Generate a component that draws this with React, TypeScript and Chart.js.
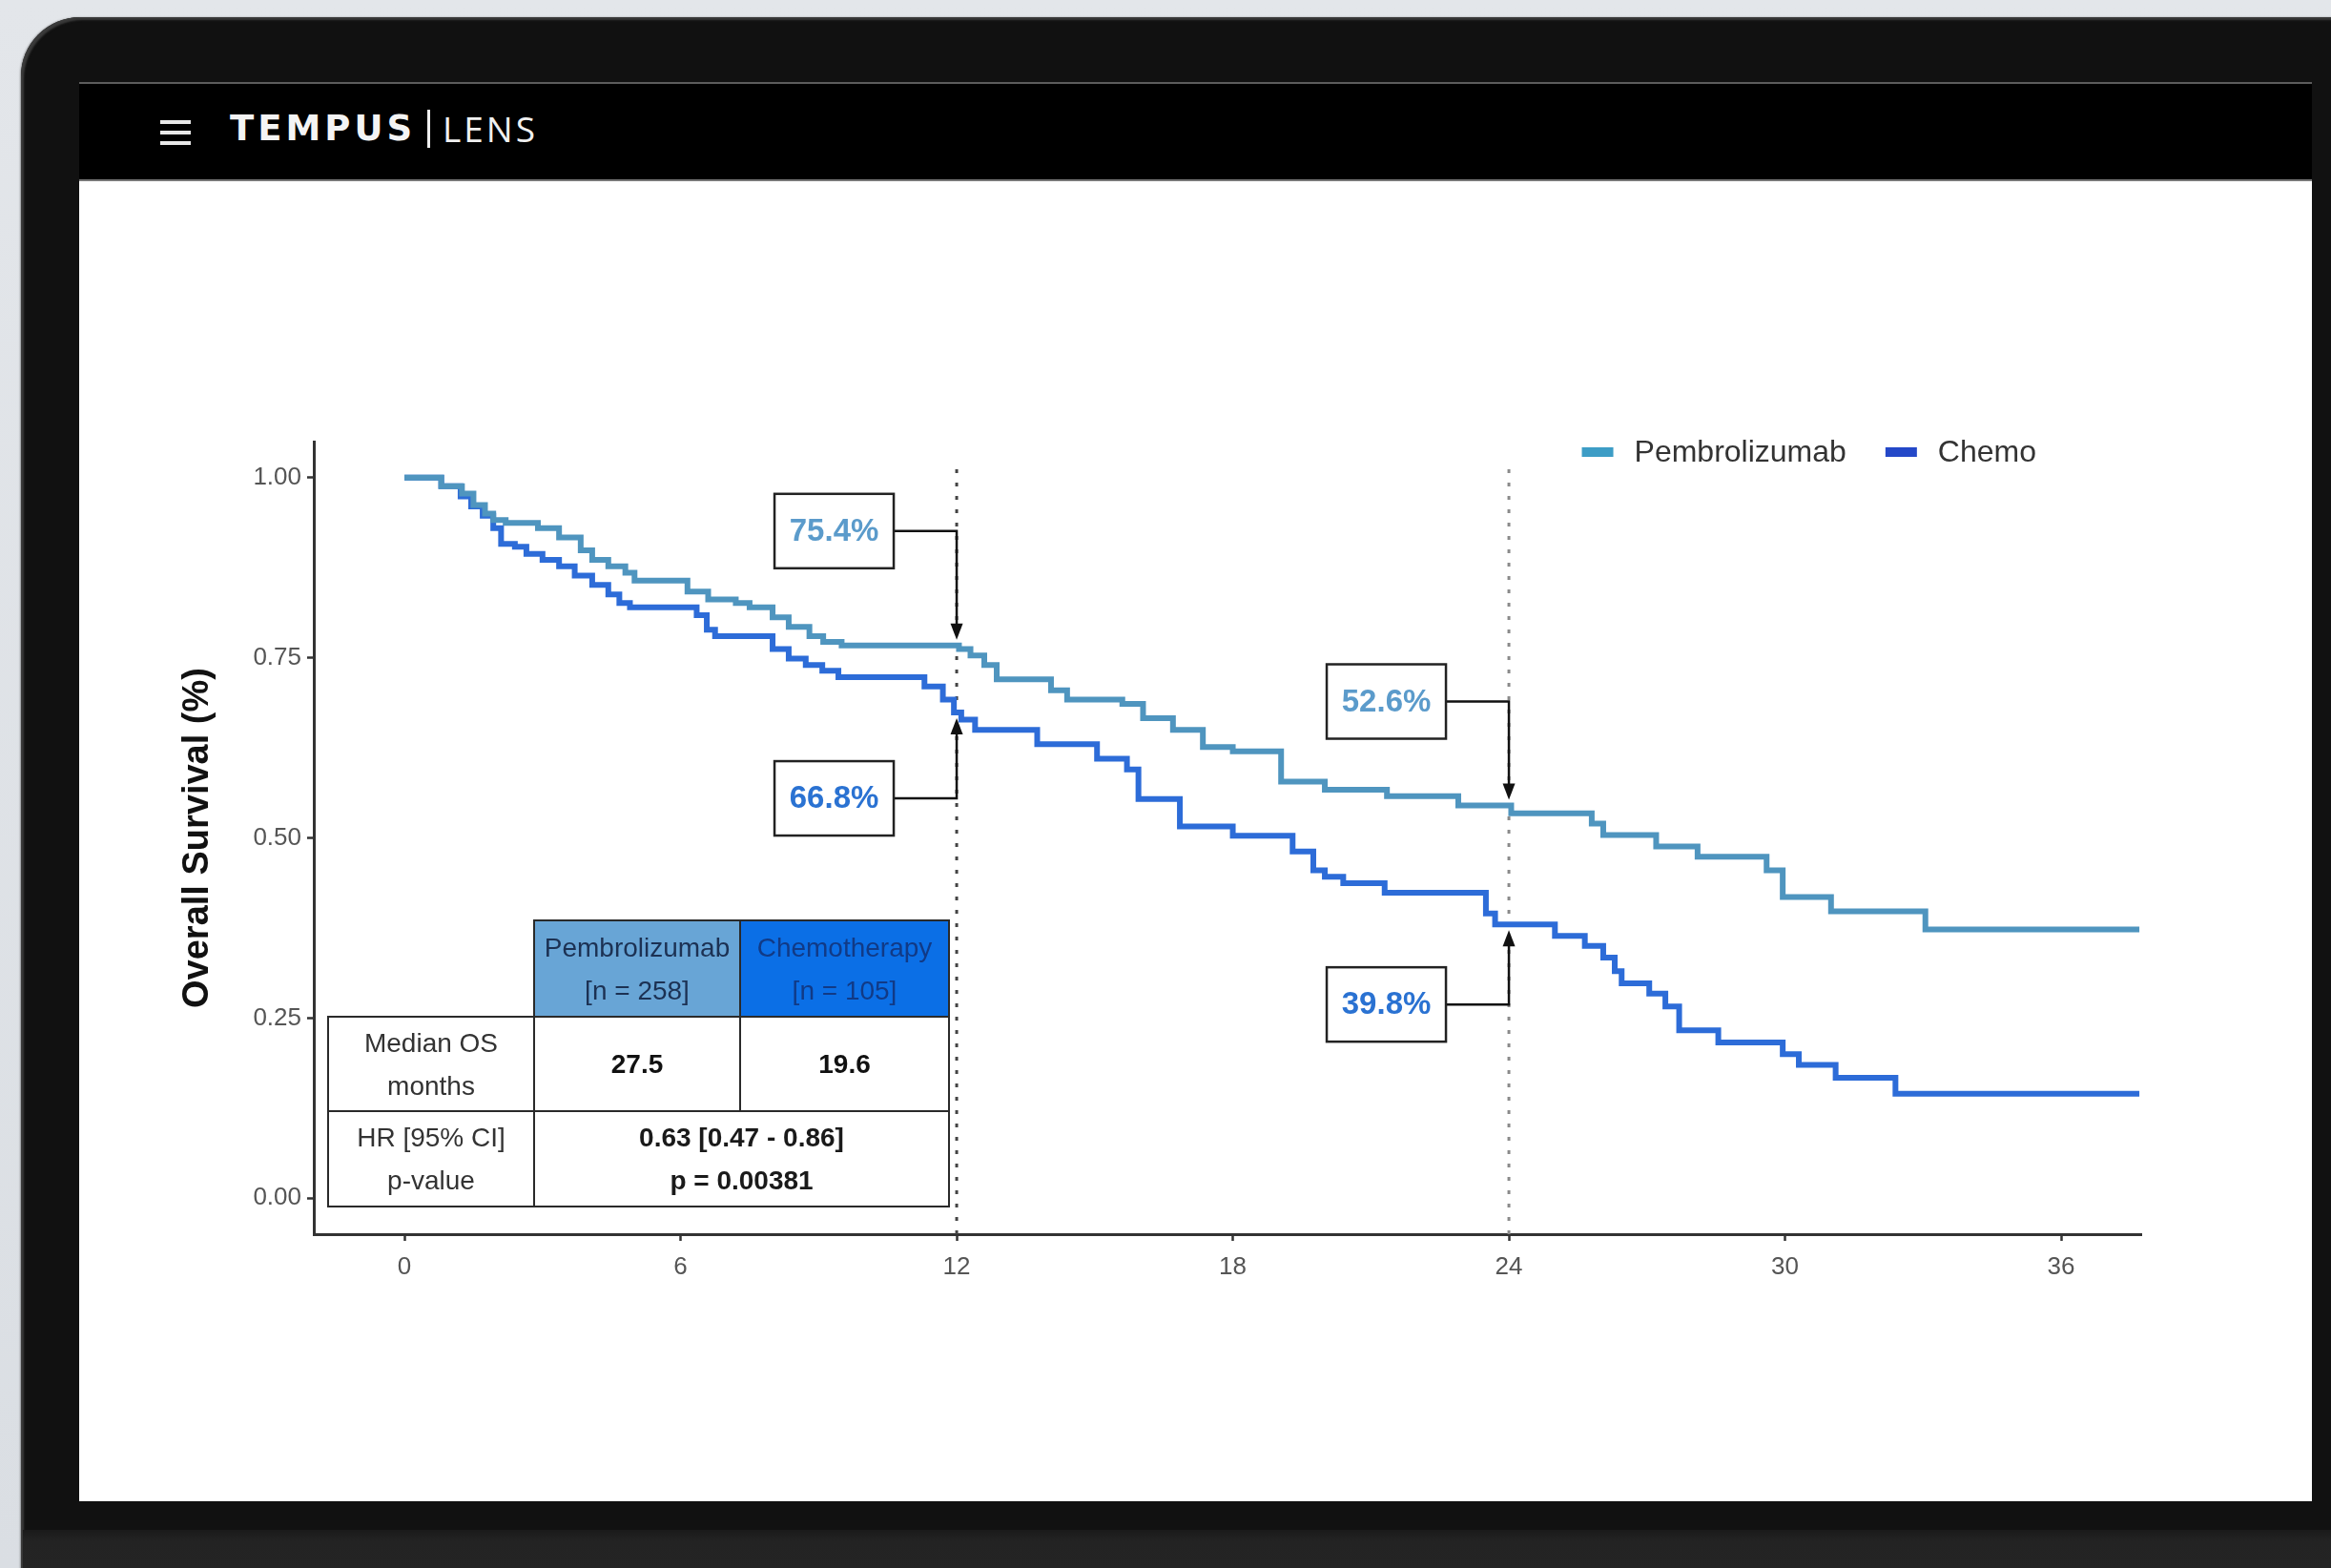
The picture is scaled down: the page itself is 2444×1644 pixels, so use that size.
import React, { useEffect, useRef } from 'react';
import { Chart, registerables } from 'chart.js';

Chart.register(...registerables);

// ---------------- DATA ----------------
const seriesNames = ['Pembrolizumab', 'Chemo'];

const pembroMonths = [0, 0.8, 1.25, 1.5, 1.75, 1.93, 2.2, 2.9, 3.36, 3.83, 4.08, 4.43, 4.8, 5.0, 6.15, 6.6, 7.2, 7.5, 8.0, 8.35, 8.8, 9.1, 9.5, 12.05, 12.3, 12.6, 12.87, 14.05, 14.4, 15.6, 16.05, 16.7, 17.35, 18.0, 19.05, 20.0, 21.35, 22.9, 24.05, 25.8, 26.05, 27.2, 28.1, 29.6, 29.95, 31.0, 33.05, 37.7];
const pembroSurv = [1.0, 0.988, 0.978, 0.962, 0.95, 0.941, 0.937, 0.93, 0.917, 0.899, 0.886, 0.877, 0.868, 0.857, 0.842, 0.831, 0.826, 0.82, 0.806, 0.793, 0.78, 0.772, 0.767, 0.762, 0.753, 0.74, 0.72, 0.705, 0.692, 0.686, 0.666, 0.65, 0.626, 0.62, 0.578, 0.567, 0.558, 0.545, 0.534, 0.52, 0.504, 0.488, 0.474, 0.455, 0.418, 0.398, 0.373, 0.373];

const chemoMonths = [0, 0.8, 1.22, 1.45, 1.7, 1.93, 2.1, 2.4, 2.65, 3.0, 3.36, 3.7, 4.08, 4.43, 4.67, 4.9, 6.35, 6.57, 6.75, 8.0, 8.35, 8.72, 9.08, 9.43, 11.3, 11.7, 11.94, 12.1, 12.4, 13.75, 15.05, 15.7, 15.95, 16.85, 18.0, 19.3, 19.75, 20.0, 20.4, 21.3, 23.5, 23.7, 25.0, 25.65, 26.05, 26.3, 26.45, 27.05, 27.4, 27.7, 28.55, 29.95, 30.3, 31.1, 32.4, 37.7];
const chemoSurv = [1.0, 0.988, 0.974, 0.96, 0.947, 0.93, 0.908, 0.904, 0.894, 0.886, 0.877, 0.864, 0.851, 0.838, 0.826, 0.82, 0.809, 0.789, 0.78, 0.762, 0.749, 0.74, 0.732, 0.723, 0.71, 0.692, 0.674, 0.664, 0.65, 0.63, 0.61, 0.595, 0.554, 0.516, 0.503, 0.481, 0.455, 0.446, 0.437, 0.424, 0.395, 0.38, 0.364, 0.35, 0.334, 0.315, 0.298, 0.284, 0.266, 0.233, 0.216, 0.2, 0.185, 0.167, 0.145, 0.145];

const xTickValues = [0, 6, 12, 18, 24, 30, 36];
const yTickValues = [0, 0.25, 0.5, 0.75, 1.0];
const xRange = [-1.97, 37.74];
const yRange = [-0.05, 1.05];

const landmarkMonths = [12, 24];
const landmarkSpan = [-0.05, 1.016];

const annotMonths = [12, 12, 24, 24];
const annotTexts = ['75.4%', '66.8%', '52.6%', '39.8%'];
const annotSeries = [0, 1, 0, 1];

const tableGroups = ['Pembrolizumab', 'Chemotherapy'];
const tableN = [258, 105];
const tableMedianOS = ['27.5', '19.6'];
const tableHR = '0.63 [0.47 - 0.86]';
const tablePValue = '0.00381';

// ---------------- STYLE ----------------
const FONT = "'Liberation Sans', Arial, Helvetica, sans-serif";
const LINE_COLORS = ['#4f95bf', '#2d6cd8'];
const LEGEND_COLORS = ['#3d9dc6', '#2448c8'];
const LABEL_COLORS = ['#5b9bcb', '#2a72d2'];
const LANDMARK_COLORS = ['#444444', '#8a8a8a'];
// box centre offset from the curve (px), per annotation
const ANNOT_BOX_DY = [-120, 90, -109, 84];

function survAt(months: number[], surv: number[], t: number) {
  let v = surv[0];
  for (let i = 0; i < months.length; i++) if (months[i] <= t) v = surv[i];
  return v;
}

const SERIES = [
  { m: pembroMonths, s: pembroSurv },
  { m: chemoMonths, s: chemoSurv },
];

const overlayPlugin = {
  id: 'kmOverlay',
  afterDatasetsDraw(chart: any) {
    const { ctx, chartArea } = chart;
    const xs = chart.scales.x;
    const ys = chart.scales.y;
    ctx.save();

    // ---- legend ----
    ctx.font = `32px ${FONT}`;
    ctx.textBaseline = 'middle';
    ctx.textAlign = 'left';
    const ly = chartArea.top + 11;
    const sw = 33, gapSw = 22, gapItems = 41;
    const widths = seriesNames.map((n) => ctx.measureText(n).width);
    const total = widths.reduce((a, w) => a + sw + gapSw + w, 0) + gapItems * (seriesNames.length - 1);
    let lx = chartArea.right - 110 - total;
    seriesNames.forEach((n, i) => {
      ctx.fillStyle = LEGEND_COLORS[i];
      ctx.fillRect(lx, ly - 5, sw, 10);
      ctx.fillStyle = '#333';
      ctx.fillText(n, lx + sw + gapSw, ly + 1);
      lx += sw + gapSw + widths[i] + gapItems;
    });

    // ---- annotations ----
    const boxW = 125, boxH = 78, boxGap = 66;
    annotMonths.forEach((m, i) => {
      const ser = SERIES[annotSeries[i]];
      const v = survAt(ser.m, ser.s, m);
      const xm = xs.getPixelForValue(m);
      const yc = ys.getPixelForValue(v);
      const dy = ANNOT_BOX_DY[i];
      const cy = yc + dy;
      const right = xm - boxGap;
      const left = right - boxW;
      const down = dy < 0;
      const tip = down ? yc - 6 : yc + 6;
      const headLen = 17, headHalf = 6.5;
      ctx.strokeStyle = '#111';
      ctx.lineWidth = 2.5;
      ctx.beginPath();
      ctx.moveTo(right, cy);
      ctx.lineTo(xm, cy);
      ctx.lineTo(xm, down ? tip - headLen + 2 : tip + headLen - 2);
      ctx.stroke();
      ctx.fillStyle = '#111';
      ctx.beginPath();
      ctx.moveTo(xm, tip);
      ctx.lineTo(xm - headHalf, down ? tip - headLen : tip + headLen);
      ctx.lineTo(xm + headHalf, down ? tip - headLen : tip + headLen);
      ctx.closePath();
      ctx.fill();
      ctx.fillStyle = '#fff';
      ctx.fillRect(left, cy - boxH / 2, boxW, boxH);
      ctx.lineWidth = 2.5;
      ctx.strokeStyle = '#222';
      ctx.strokeRect(left, cy - boxH / 2, boxW, boxH);
      ctx.fillStyle = LABEL_COLORS[annotSeries[i]];
      ctx.font = `bold 33px ${FONT}`;
      ctx.textAlign = 'center';
      ctx.textBaseline = 'middle';
      ctx.fillText(annotTexts[i], left + boxW / 2, cy + 1);
    });
    ctx.restore();
  },
};

function KMChart() {
  const ref = useRef<HTMLCanvasElement>(null);
  useEffect(() => {
    const tickFont = { family: FONT, size: 26 };
    const gridCfg = {
      display: true,
      drawOnChartArea: false,
      drawTicks: true,
      tickLength: 7,
      tickWidth: 2.5,
      tickColor: '#333',
    };
    const borderCfg = { display: true, color: '#333', width: 3 };
    const datasets: any[] = SERIES.map((ser, i) => ({
      label: seriesNames[i],
      data: ser.m.map((t, k) => ({ x: t, y: ser.s[k] })),
      borderColor: LINE_COLORS[i],
      backgroundColor: LINE_COLORS[i],
      borderWidth: 6,
      stepped: 'before',
      pointRadius: 0,
      fill: false,
      tension: 0,
    }));
    landmarkMonths.forEach((m, i) => {
      datasets.push({
        label: 'landmark' + m,
        data: landmarkSpan.map((v) => ({ x: m, y: v })),
        borderColor: LANDMARK_COLORS[i],
        borderWidth: 3,
        borderDash: [4, 10],
        borderCapStyle: 'butt',
        pointRadius: 0,
        fill: false,
      });
    });
    const chart = new Chart(ref.current as HTMLCanvasElement, {
      type: 'line',
      data: { datasets },
      options: {
        animation: false,
        responsive: false,
        devicePixelRatio: 1,
        events: [],
        layout: { autoPadding: false, padding: { left: 0, top: 43, right: 65, bottom: 0 } },
        plugins: { legend: { display: false }, tooltip: { enabled: false } },
        scales: {
          x: {
            type: 'linear',
            min: xRange[0],
            max: xRange[1],
            afterBuildTicks: (s: any) => {
              s.ticks = xTickValues.map((v) => ({ value: v }));
            },
            afterFit: (s: any) => {
              s.height = 86;
            },
            ticks: {
              color: '#555',
              font: tickFont,
              padding: 12,
              autoSkip: false,
              maxRotation: 0,
              callback: (v: any) => String(v),
            },
            grid: gridCfg,
            border: borderCfg,
          },
          y: {
            type: 'linear',
            min: yRange[0],
            max: yRange[1],
            afterBuildTicks: (s: any) => {
              s.ticks = yTickValues.map((v) => ({ value: v }));
            },
            afterFit: (s: any) => {
              s.width = 219;
            },
            ticks: {
              color: '#555',
              font: tickFont,
              padding: 6,
              autoSkip: false,
              callback: (v: any) => Number(v).toFixed(2),
            },
            grid: gridCfg,
            border: borderCfg,
            title: {
              display: true,
              text: 'Overall Survival (%)',
              color: '#111',
              font: { family: FONT, size: 38, weight: 'bold' },
              padding: { top: 75, bottom: 0 },
            },
          },
        },
      } as any,
      plugins: [overlayPlugin],
    } as any);
    return () => chart.destroy();
  }, []);
  return (
    <canvas
      ref={ref}
      width={2200}
      height={960}
      style={{ position: 'absolute', left: 110, top: 420, width: 2200, height: 960 }}
    />
  );
}

function SummaryTable() {
  const bd = '2.5px solid #2a2a2a';
  const base: any = {
    border: bd,
    padding: 0,
    textAlign: 'center',
    verticalAlign: 'middle',
    fontSize: 28,
    lineHeight: '45px',
  };
  return (
    <table
      style={{
        position: 'absolute',
        left: 343,
        top: 964,
        borderCollapse: 'collapse',
        tableLayout: 'fixed',
        width: 651,
        fontFamily: FONT,
        background: 'transparent',
        zIndex: 2,
      }}
    >
      <colgroup>
        <col style={{ width: 216 }} />
        <col style={{ width: 216 }} />
        <col style={{ width: 219 }} />
      </colgroup>
      <tbody>
        <tr style={{ height: 101 }}>
          <td style={{ border: 'none' }}></td>
          <td style={{ ...base, background: '#68a5d6', color: '#1c3153' }}>
            {tableGroups[0]}
            <br />[n = {tableN[0]}]
          </td>
          <td style={{ ...base, background: '#0b6fe6', color: '#113a86' }}>
            {tableGroups[1]}
            <br />[n = {tableN[1]}]
          </td>
        </tr>
        <tr style={{ height: 99 }}>
          <td style={{ ...base, background: '#fff', color: '#333' }}>
            Median OS
            <br />
            months
          </td>
          <td style={{ ...base, background: '#fff', color: '#111', fontWeight: 'bold' }}>{tableMedianOS[0]}</td>
          <td style={{ ...base, background: '#fff', color: '#111', fontWeight: 'bold' }}>{tableMedianOS[1]}</td>
        </tr>
        <tr style={{ height: 100 }}>
          <td style={{ ...base, background: '#fff', color: '#333' }}>
            HR [95% CI]
            <br />
            p-value
          </td>
          <td colSpan={2} style={{ ...base, background: '#fff', color: '#1a1a1a', fontWeight: 'bold' }}>
            {tableHR}
            <br />p = {tablePValue}
          </td>
        </tr>
      </tbody>
    </table>
  );
}

export default function App() {
  return (
    <div
      style={{
        position: 'fixed',
        left: 0,
        top: 0,
        width: 2444,
        height: 1644,
        overflow: 'hidden',
        background: 'linear-gradient(180deg, #e3e6ea 0%, #dadee3 100%)',
        fontFamily: FONT,
      }}
    >
      <div
        style={{
          position: 'absolute',
          left: 22,
          top: 18,
          width: 2460,
          height: 1700,
          background: '#111',
          borderTopLeftRadius: 62,
          boxShadow: 'inset 3px 3px 2px #3a3a3a, -1px 0 2px rgba(0,0,0,0.35)',
        }}
      />
      <div
        style={{
          position: 'absolute',
          left: 24,
          top: 1604,
          width: 2440,
          height: 40,
          background: 'linear-gradient(180deg, #1a1a1a 0%, #232323 30%, #242424 100%)',
        }}
      />
      <div
        style={{
          position: 'absolute',
          left: 83,
          top: 86,
          width: 2341,
          height: 1488,
          background: '#fff',
        }}
      />
      <div
        style={{
          position: 'absolute',
          left: 83,
          top: 86,
          width: 2341,
          height: 104,
          background: '#000',
          borderTop: '2px solid #5c5c5c',
          borderBottom: '2px solid #777',
          boxSizing: 'border-box',
        }}
      />
      {[126, 137, 148].map((y) => (
        <div
          key={y}
          style={{ position: 'absolute', left: 168, top: y, width: 32, height: 4, background: '#e8e8e8' }}
        />
      ))}
      <div
        style={{
          position: 'absolute',
          left: 241,
          top: 116,
          fontFamily: "'DejaVu Sans', sans-serif",
          fontWeight: 'bold',
          fontSize: 37,
          lineHeight: '37px',
          letterSpacing: 4,
          color: '#f4f4f4',
          whiteSpace: 'nowrap',
        }}
      >
        TEMPUS
      </div>
      <div style={{ position: 'absolute', left: 448, top: 115, width: 3, height: 40, background: '#eee' }} />
      <div
        style={{
          position: 'absolute',
          left: 464,
          top: 117,
          fontFamily: "'Open Sans', 'DejaVu Sans', sans-serif",
          fontWeight: 400,
          fontSize: 37,
          lineHeight: '36px',
          letterSpacing: 3,
          color: '#f0f0f0',
          whiteSpace: 'nowrap',
        }}
      >
        LENS
      </div>
      <KMChart />
      <SummaryTable />
    </div>
  );
}
